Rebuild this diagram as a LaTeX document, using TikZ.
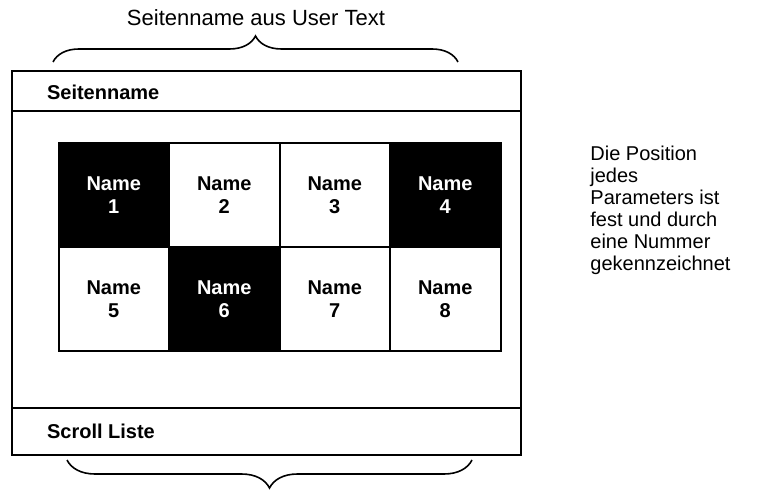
\documentclass[tikz,border=0pt]{standalone}
\usepackage{fontspec}
\setmainfont{Liberation Sans}
\usetikzlibrary{positioning,decorations.pathreplacing}

\begin{document}
\begin{tikzpicture}[x=0.5pt, y=-0.5pt, node distance=0pt,
  every node/.style={font=\fontsize{10}{11.5}\selectfont},
  cell/.style={draw, line width=1pt, outer sep=0pt, inner sep=0pt, minimum width=55.25pt, minimum height=52pt, align=center, font=\bfseries\fontsize{10}{11.5}\selectfont},
  darkcell/.style={cell, fill=black, text=white},
  brace/.style={decorate, decoration={brace, amplitude=13pt}, line width=0.8pt}]
\useasboundingbox (0,0) rectangle (763,490);
% page frame
\draw[line width=0.8pt] (12,71) rectangle (521,455);
\draw[line width=0.8pt] (12,111) -- (521,111);
\draw[line width=0.8pt] (12,408) -- (521,408);
\node[anchor=west, font=\bfseries\fontsize{10}{11.5}\selectfont] (pagename) at (40,92) {Seitenname};
\node[anchor=west, font=\bfseries\fontsize{10}{11.5}\selectfont] (scroll) at (40,431) {Scroll Liste};
% parameter grid
\node[darkcell] (cell1) at (113.75,195) {Name\\1};
\node[cell, right=of cell1] (cell2) {Name\\2};
\node[cell, right=of cell2] (cell3) {Name\\3};
\node[darkcell, right=of cell3] (cell4) {Name\\4};
\node[cell, below=of cell1] (cell5) {Name\\5};
\node[darkcell, right=of cell5] (cell6) {Name\\6};
\node[cell, right=of cell6] (cell7) {Name\\7};
\node[cell, right=of cell7] (cell8) {Name\\8};
% braces and notes
\node[font=\fontsize{11}{13}\selectfont] (title) at (256,18) {Seitenname aus User Text};
\coordinate (topL) at (53,62);
\coordinate (topR) at (458,62);
\draw[brace] (topL) -- (topR);
\coordinate (botL) at (67,460);
\coordinate (botR) at (472,460);
\draw[brace, decoration={amplitude=14pt}] (botR) -- (botL);
\node[anchor=north west, align=left, inner sep=0pt, font=\fontsize{10}{11}\selectfont] (note) at (590,146) {Die Position\\jedes\\Parameters ist\\fest und durch\\eine Nummer\\gekennzeichnet};
\end{tikzpicture}
\end{document}
